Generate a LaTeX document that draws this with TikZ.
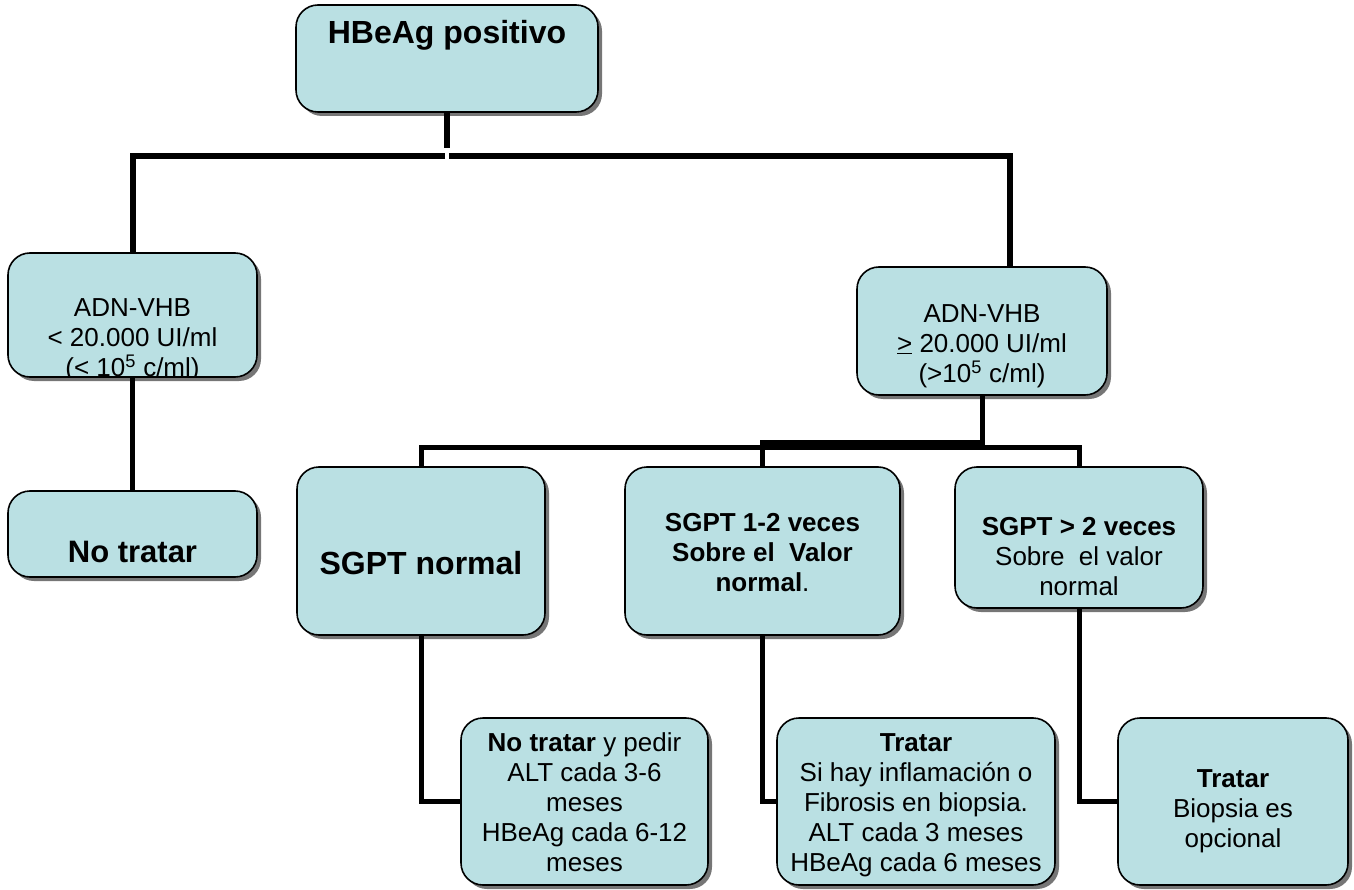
\documentclass[tikz,border=0pt]{standalone}
\usepackage{fontspec}
\setmainfont{Liberation Sans}
\usetikzlibrary{shadows}
\definecolor{boxfill}{RGB}{186,224,227}
\definecolor{shade}{RGB}{118,118,118}
\begin{document}
\begin{tikzpicture}[x=1pt,y=-1pt,
  box/.style={draw=black, line width=1.6pt, fill=boxfill, rounded corners=22pt,
    inner sep=0pt,
    drop shadow={shadow xshift=4pt, shadow yshift=-4pt, fill=shade, opacity=1}},
  txt/.style={align=center, inner sep=0pt, font=\fontsize{26}{30}\selectfont},
  bigtxt/.style={align=center, inner sep=0pt, font=\fontsize{#1}{#1}\selectfont\bfseries},
  link/.style={line width=5pt},
  toplink/.style={line width=6pt},
]
\useasboundingbox (0,0) rectangle (1354,890);

% ---- boxes ----
\node[box, minimum width=302pt, minimum height=107pt] (top)  at (447,58.5)  {};
\node[box, minimum width=249pt, minimum height=124pt] (adnL) at (132.5,315) {};
\node[box, minimum width=249pt, minimum height=86pt]  (noL)  at (132.5,534) {};
\node[box, minimum width=250pt, minimum height=128pt] (adnR) at (982,331)   {};
\node[box, minimum width=248pt, minimum height=168pt] (sgN)  at (421,551)   {};
\node[box, minimum width=275pt, minimum height=168pt] (sgM)  at (762.5,551) {};
\node[box, minimum width=248pt, minimum height=141pt] (sgH)  at (1079,537.5){};
\node[box, minimum width=247pt, minimum height=167pt] (bN)   at (584.5,801.5){};
\node[box, minimum width=278pt, minimum height=167pt] (bM)   at (916,801.5) {};
\node[box, minimum width=230pt, minimum height=167pt] (bH)   at (1233,801.5){};

% ---- connectors ----
\coordinate (stem)  at (447,148);
\coordinate (jL)    at (445,156);
\coordinate (jR)    at (449,156);
\coordinate (rdrop) at (1010,156);
\coordinate (hub)   at (982,447);
\coordinate (barL)  at (760,445);
\coordinate (barR)  at (984,445);

\draw[toplink] (top.south) -- (stem);
\draw[toplink] (jL) -| (adnL.north);
\draw[toplink] (jR) -- (rdrop) -- (rdrop |- adnR.north);
\draw[link] (adnL.south) -- (noL.north);
\draw[link] (adnR.south) -- (hub);
\draw[link] (sgN.north) |- (hub) -| (sgH.north);
\draw[link] (sgM.north) -- (sgM.north |- hub);
\draw[line width=10pt] (barL) -- (barR);
\draw[link] (sgN.south) |- (bN.west);
\draw[link] (sgM.south) |- (bM.west);
\draw[link] (sgH.south) |- (bH.west);

% ---- texts ----
\node[bigtxt=32] (topt) at (447,35) {HBeAg positivo};
\begin{scope}
  \clip[rounded corners=22pt] (adnL.south west) rectangle (adnL.north east);
  \node[txt] (adnLt) at (132.5,340.5)
    {ADN-VHB\\< 20.000 UI/ml\\(< 10\textsuperscript{5} c/ml)};
\end{scope}
\node[bigtxt=31] (noLt) at (132.5,552) {No tratar};
\node[txt] (adnRt) at (982,346)
  {ADN-VHB\\\underline{>} 20.000 UI/ml\\(>10\textsuperscript{5} c/ml)};
\node[bigtxt=32] (sgNt) at (421,563) {SGPT normal};
\node[txt] (sgMt) at (762.5,552.5)
  {\textbf{SGPT 1-2 veces}\\\textbf{Sobre el~ Valor}\\\textbf{normal}.};
\node[txt] (sgHt) at (1079,557)
  {\textbf{SGPT > 2 veces}\\Sobre~ el valor\\normal};
\node[txt] (bNt) at (584.5,802)
  {\textbf{No tratar} y pedir\\ALT cada 3-6\\meses\\HBeAg cada 6-12\\meses};
\begin{scope}
  \clip[rounded corners=22pt] (bM.south west) rectangle (bM.north east);
  \node[txt] (bMt) at (916,805)
    {\textbf{Tratar}\\Si hay inflamación o\\Fibrosis en biopsia.\\ALT cada 3 meses\\HBeAg cada 6 meses};
\end{scope}
\node[txt] (bHt) at (1233,811) {\textbf{Tratar}\\Biopsia es\\opcional};
\end{tikzpicture}
\end{document}
